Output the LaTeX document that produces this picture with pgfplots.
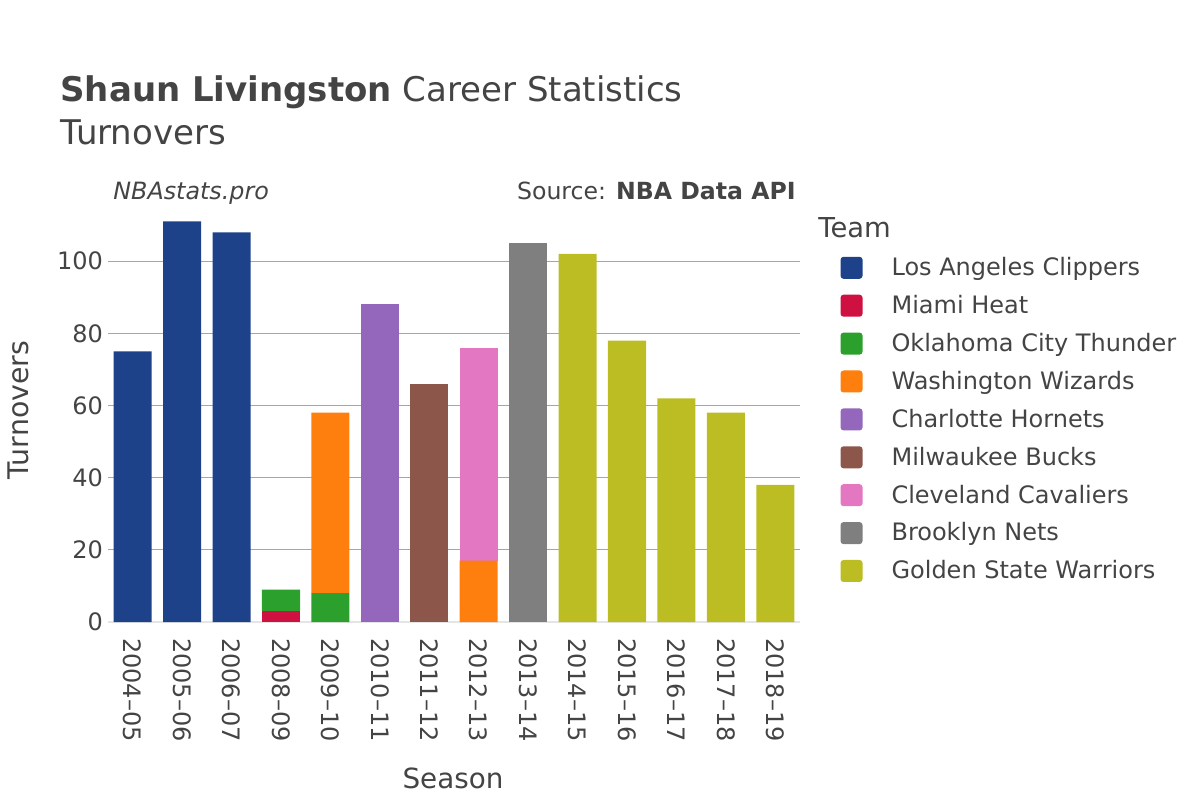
\documentclass[border=0pt]{standalone}
\usepackage{pgfplots}
\pgfplotsset{compat=1.18}
\usepackage{pgfplotstable}
\usepackage{fontspec}
\setmainfont{DejaVu Sans}
\definecolor{txt}{HTML}{444444}
\definecolor{lac}{HTML}{1D428A}
\definecolor{mia}{HTML}{CE1141}
\definecolor{okc}{HTML}{2CA02C}
\definecolor{was}{HTML}{FF7F0E}
\definecolor{cha}{HTML}{9467BD}
\definecolor{mil}{HTML}{8C564B}
\definecolor{cle}{HTML}{E377C2}
\definecolor{bkn}{HTML}{7F7F7F}
\definecolor{gsw}{HTML}{BCBD22}
\pgfplotstableread{
x LAC MIA OKC WAS CHA MIL CLE BKN GSW
0 75 0 0 0 0 0 0 0 0
1 111 0 0 0 0 0 0 0 0
2 108 0 0 0 0 0 0 0 0
3 0 3 6 0 0 0 0 0 0
4 0 0 8 50 0 0 0 0 0
5 0 0 0 0 88 0 0 0 0
6 0 0 0 0 0 66 0 0 0
7 0 0 0 17 0 0 59 0 0
8 0 0 0 0 0 0 0 105 0
9 0 0 0 0 0 0 0 0 102
10 0 0 0 0 0 0 0 0 78
11 0 0 0 0 0 0 0 0 62
12 0 0 0 0 0 0 0 0 58
13 0 0 0 0 0 0 0 0 38
}\datatable
\begin{document}
\begin{tikzpicture}
\path[use as bounding box] (0pt,0pt) rectangle (600pt,-400pt);
\begin{axis}[
  at={(54pt,-311pt)}, anchor=south west,
  width=346pt, height=207.5pt, scale only axis,
  xmin=-0.5, xmax=13.5, ymin=0, ymax=115,
  ybar stacked, bar width=0.77,
  axis line style={draw=none},
  xtick=data,
  xticklabels={2004–05,2005–06,2006–07,2008–09,2009–10,2010–11,2011–12,2012–13,2013–14,2014–15,2015–16,2016–17,2017–18,2018–19},
  xticklabel style={rotate=-90, anchor=west, font=\fontsize{12}{14}\selectfont, text=txt},
  xticklabel shift=4.5pt,
  ytick={20,40,60,80,100},
  extra y ticks={0},
  extra y tick style={grid style={black!10, line width=1.2pt}},
  yticklabel style={font=\fontsize{12}{14}\selectfont, text=txt, xshift=1pt},
  /pgf/number format/assume math mode=true,
  major tick length=0pt,
  ymajorgrids,
  grid style={black!35, line width=0.5pt},
  legend style={at={(rel axis cs:1.058,0.881)}, anchor=north west, draw=none, fill=none,
    inner sep=0pt, row sep=7pt, column sep=14.5pt,
    nodes={inner sep=0pt, text height=8.6pt, text depth=2.5pt, font=\fontsize{12}{14}\selectfont, text=txt}},
  legend cell align=left,
  legend image code/.code={\fill[#1, draw=none, rounded corners=1.5pt] (0pt,-4.6pt) rectangle (11pt,6.4pt);},
]
\addplot[fill=lac, draw=none] table[x=x,y=LAC]{\datatable};
\addlegendentry{Los Angeles Clippers}
\addplot[fill=mia, draw=none] table[x=x,y=MIA]{\datatable};
\addlegendentry{Miami Heat}
\addplot[fill=okc, draw=none] table[x=x,y=OKC]{\datatable};
\addlegendentry{Oklahoma City Thunder}
\addplot[fill=was, draw=none] table[x=x,y=WAS]{\datatable};
\addlegendentry{Washington Wizards}
\addplot[fill=cha, draw=none] table[x=x,y=CHA]{\datatable};
\addlegendentry{Charlotte Hornets}
\addplot[fill=mil, draw=none] table[x=x,y=MIL]{\datatable};
\addlegendentry{Milwaukee Bucks}
\addplot[fill=cle, draw=none] table[x=x,y=CLE]{\datatable};
\addlegendentry{Cleveland Cavaliers}
\addplot[fill=bkn, draw=none] table[x=x,y=BKN]{\datatable};
\addlegendentry{Brooklyn Nets}
\addplot[fill=gsw, draw=none] table[x=x,y=GSW]{\datatable};
\addlegendentry{Golden State Warriors}
\end{axis}
\node[anchor=base west, inner sep=0, text=txt, font=\fontsize{17}{20}\selectfont] at (30pt,-50.5pt) {\textbf{Shaun Livingston} Career Statistics};
\node[anchor=base west, inner sep=0, text=txt, font=\fontsize{17}{20}\selectfont] at (30pt,-72pt) {Turnovers};
\node[anchor=base west, inner sep=0, text=txt, font=\fontsize{11.9}{13}\selectfont\itshape] at (56.5pt,-99.5pt) {NBAstats.pro};
\node[anchor=base east, inner sep=0, text=txt, font=\fontsize{11.8}{13}\selectfont] at (398pt,-99.5pt) {Source: \textbf{NBA Data API}};
\node[anchor=base west, inner sep=0, text=txt, font=\fontsize{13.7}{15}\selectfont] at (409pt,-118.5pt) {Team};
\node[rotate=90, inner sep=0, text=txt, font=\fontsize{14.2}{16}\selectfont] at (9pt,-205pt) {Turnovers};
\node[inner sep=0, text=txt, font=\fontsize{13.9}{16}\selectfont] at (226.5pt,-389pt) {Season};
\end{tikzpicture}
\end{document}
